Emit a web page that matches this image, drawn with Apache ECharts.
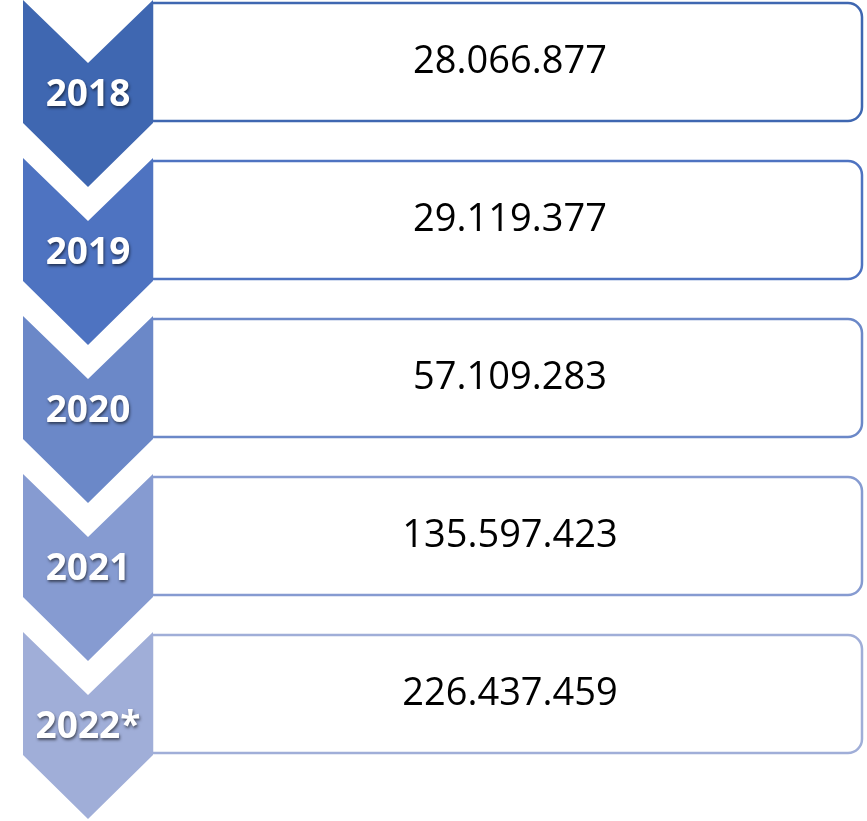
<!DOCTYPE html>
<html>
<head>
<meta charset="utf-8">
<script src="https://cdn.jsdelivr.net/npm/echarts@6/dist/echarts.min.js"></script>
<style>
    html, body { margin: 0; padding: 0; background: #fff; }
    #main { width: 867px; height: 821px; }
</style>
</head>
<body>
<div id="main"></div>
<script>
var years = ['2018', '2019', '2020', '2021', '2022*'];
var values = ['28.066.877', '29.119.377', '57.109.283', '135.597.423', '226.437.459'];

// one colour per step, darkest first
var fillColors = ['#3F67B1', '#4E73C1', '#6B88C8', '#869BD1', '#A0AED8'];

var chart = echarts.init(document.getElementById('main'));

function renderStep(params, api) {
    var idx = api.value(0);
    var c = api.coord([0, idx]);
    var band = api.size([0, 1])[1]; // 158px per step
    var top = c[1] - band / 2;
    var x0 = api.coord([23, idx])[0];
    var x1 = api.coord([153, idx])[0];
    var xr = api.coord([863, idx])[0];
    var xm = (x0 + x1) / 2;
    var color = fillColors[idx];

    return {
        type: 'group',
        children: [{
            type: 'rect',
            shape: { x: x1 - 1, y: top + 3, width: xr - x1, height: 118, r: [0, 14, 14, 0] },
            style: { fill: '#fff', stroke: color, lineWidth: 2.5 }
        }, {
            type: 'polygon',
            shape: {
                points: [
                    [x0, top], [xm, top + 63], [x1, top],
                    [x1, top + 123], [xm, top + 187], [x0, top + 123]
                ]
            },
            style: { fill: color }
        }, {
            type: 'text',
            style: {
                text: years[idx],
                x: xm,
                y: top + 95,
                align: 'center',
                verticalAlign: 'middle',
                fill: '#fff',
                font: 'bold 37px "Open Sans"',
                textShadowColor: 'rgba(0,0,0,0.55)',
                textShadowBlur: 3,
                textShadowOffsetX: 1,
                textShadowOffsetY: 2
            }
        }, {
            type: 'text',
            style: {
                text: values[idx],
                x: (x1 + xr) / 2 + 2,
                y: top + 62,
                align: 'center',
                verticalAlign: 'middle',
                fill: '#000',
                font: '38px "Open Sans"'
            }
        }]
    };
}

var option = {
    animation: false,
    grid: { left: 0, top: 0, width: 867, height: 790 },
    xAxis: { type: 'value', min: 0, max: 867, show: false },
    yAxis: { type: 'category', data: years, inverse: true, show: false },
    series: [{
        type: 'custom',
        renderItem: renderStep,
        encode: { y: 0 },
        data: years.map(function (y, i) {
            return [i];
        }),
        clip: false
    }]
};

chart.setOption(option);
</script>
</body>
</html>
